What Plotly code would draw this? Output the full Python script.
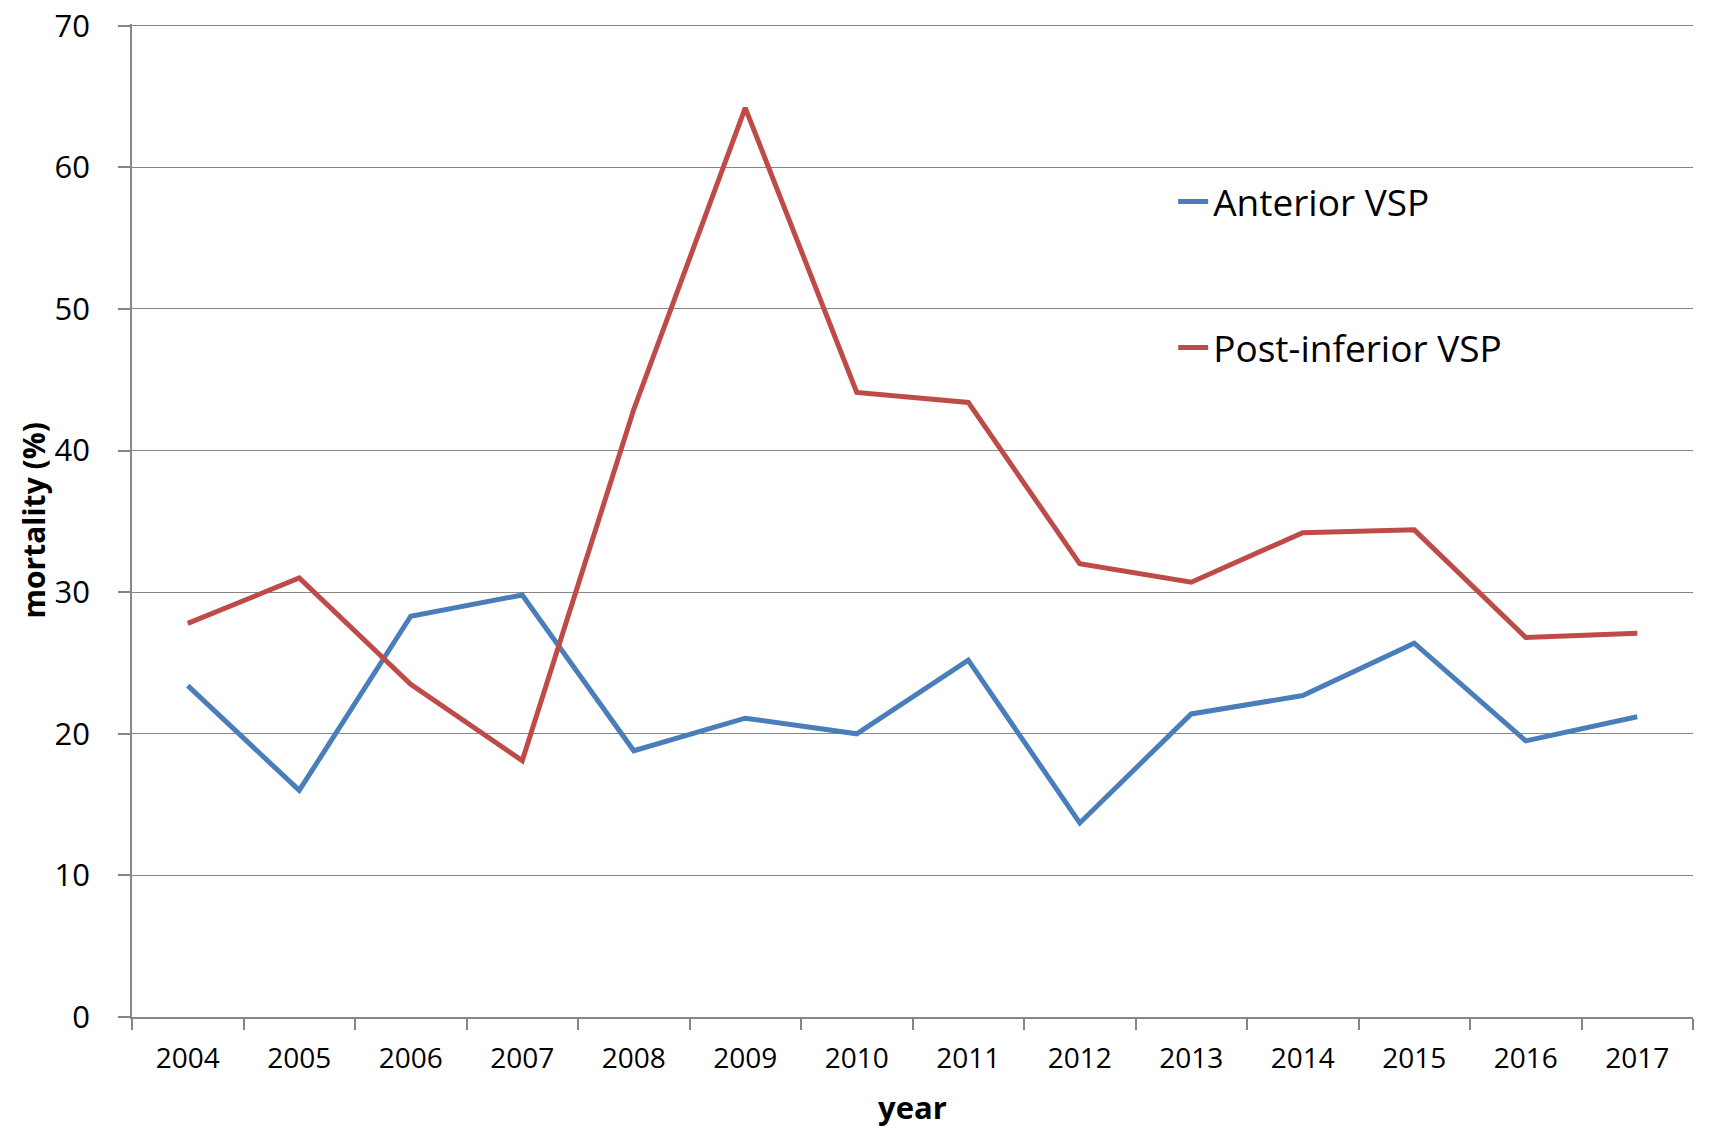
import plotly.graph_objects as go

years = ["2004", "2005", "2006", "2007", "2008", "2009", "2010",
         "2011", "2012", "2013", "2014", "2015", "2016", "2017"]
anterior = [23.4, 16.0, 28.3, 29.8, 18.8, 21.1, 20.0, 25.2, 13.7, 21.4, 22.7, 26.4, 19.5, 21.2]
post_inferior = [27.8, 31.0, 23.5, 18.1, 42.9, 64.2, 44.1, 43.4, 32.0, 30.7, 34.2, 34.4, 26.8, 27.1]
y_ticks = [0, 10, 20, 30, 40, 50, 60, 70]

FONT = "Open Sans, Liberation Sans, sans-serif"

fig = go.Figure()
fig.add_trace(go.Scatter(x=years, y=anterior, mode="lines", name="Anterior VSP",
                         line=dict(color="#4A7EBB", width=5), legendgroup="a"))
fig.add_trace(go.Scatter(x=years, y=post_inferior, mode="lines", name="Post-inferior VSP",
                         line=dict(color="#BE4B48", width=5), legendgroup="b"))

fig.update_layout(
    width=1709, height=1132,
    margin=dict(l=132, r=16, t=24, b=115, autoexpand=False),
    paper_bgcolor="white", plot_bgcolor="white",
    font=dict(family=FONT, color="black"),
    showlegend=True,
    legend=dict(x=0.667, y=0.852, xanchor="left", yanchor="top",
                font=dict(size=37, family=FONT), tracegroupgap=95,
                bgcolor="rgba(0,0,0,0)"),
    xaxis=dict(type="category", range=[-0.5, 13.5], tickson="boundaries",
               ticks="outside", ticklen=11, tickcolor="#868686", tickwidth=1.5,
               showline=True, linecolor="#868686", linewidth=1.5,
               showgrid=False, tickfont=dict(size=28, family=FONT),
               ticklabelstandoff=16, automargin=False,
               title=dict(text="<b>year</b>", font=dict(size=31, family=FONT), standoff=22)),
    yaxis=dict(range=[0, 70.12], tickvals=y_ticks, ticks="outside", ticklen=12,
               tickcolor="#868686", tickwidth=1.5, showline=True, linecolor="#868686", linewidth=1.5,
               showgrid=True, gridcolor="#868686", gridwidth=1.2,
               zeroline=False, tickfont=dict(size=31, family=FONT),
               ticklabelstandoff=22, automargin=False, ticklabeloverflow="allow"),
    annotations=[dict(text="<b>mortality (%)</b>", xref="paper", yref="paper",
                      x=0, y=0.5, xshift=-99, xanchor="center", yanchor="middle",
                      textangle=-90, showarrow=False,
                      font=dict(size=30, family=FONT, color="black"))],
)

fig.write_html("out.html", config={"displayModeBar": False},
               post_script="document.body.style.margin='0';document.body.style.overflow='hidden';")
